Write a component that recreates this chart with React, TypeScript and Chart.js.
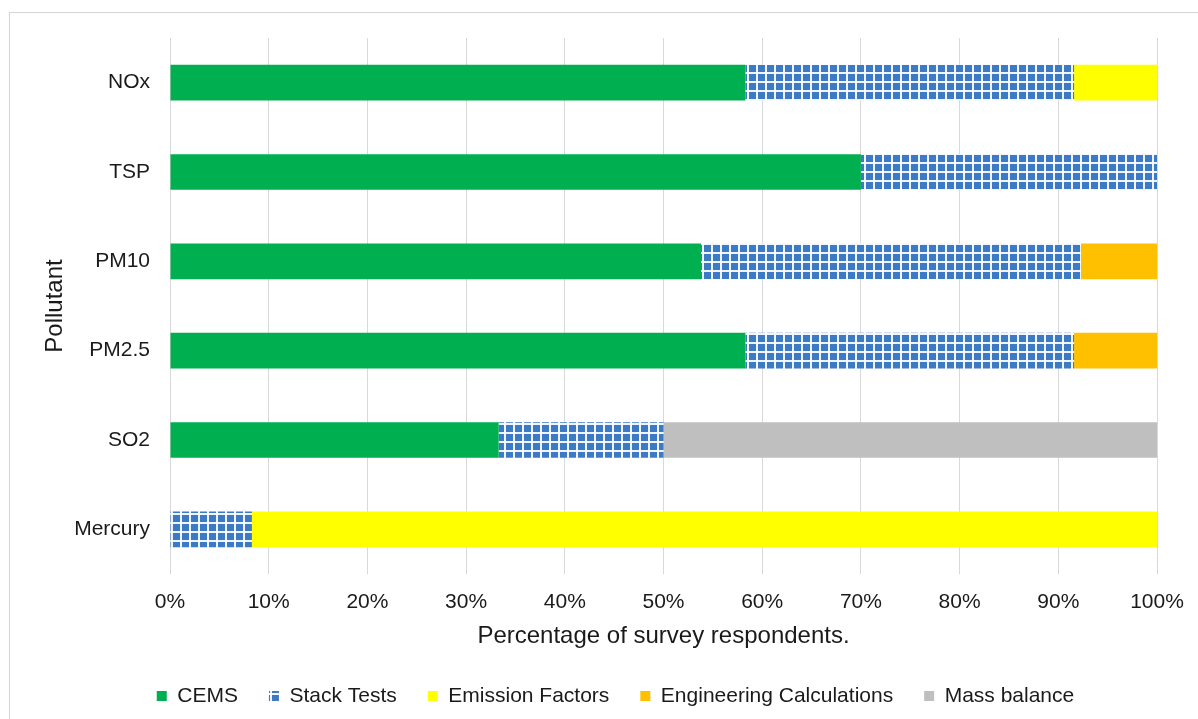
import React, { useEffect, useRef } from "react";
import { Chart, registerables } from "chart.js";

Chart.register(...registerables);

const categories = ["NOx", "TSP", "PM10", "PM2.5", "SO2", "Mercury"];
const cems = [58.3, 70.0, 53.8, 58.3, 33.3, 0];
const stackTests = [33.3, 30.0, 38.5, 33.3, 16.7, 8.3];
const emissionFactors = [8.4, 0, 0, 0, 0, 91.7];
const engineeringCalcs = [0, 0, 7.7, 8.4, 0, 0];
const massBalance = [0, 0, 0, 0, 50.0, 0];
const xTicks = [0, 10, 20, 30, 40, 50, 60, 70, 80, 90, 100];

const FONT = "'Liberation Sans', Arial, sans-serif";

function makePattern(): CanvasPattern | string {
  const c = document.createElement("canvas");
  c.width = 9;
  c.height = 9;
  const ctx = c.getContext("2d");
  if (!ctx) return "#3c7ac6";
  ctx.fillStyle = "#3c7ac6";
  ctx.fillRect(0, 0, 9, 9);
  ctx.fillStyle = "rgba(255,255,255,0.92)";
  ctx.fillRect(0, 0, 9, 2);
  ctx.fillRect(0, 0, 2, 9);
  const p = ctx.createPattern(c, "repeat");
  return p || "#3c7ac6";
}

const legendShift = {
  id: "legendShift",
  afterLayout(chart: any) {
    if (chart.legend) {
      chart.legend.left += 37;
      chart.legend.right += 37;
    }
  },
};

export default function App() {
  const ref = useRef<HTMLCanvasElement | null>(null);

  useEffect(() => {
    if (!ref.current) return;
    const pattern = makePattern();
    const chart = new Chart(ref.current, {
      type: "bar",
      data: {
        labels: categories,
        datasets: [
          { label: "CEMS", data: cems, backgroundColor: "#00b050" },
          { label: "Stack Tests", data: stackTests, backgroundColor: pattern as any },
          { label: "Emission Factors", data: emissionFactors, backgroundColor: "#ffff00" },
          { label: "Engineering Calculations", data: engineeringCalcs, backgroundColor: "#ffc000" },
          { label: "Mass balance", data: massBalance, backgroundColor: "#bfbfbf" },
        ].map((d) => ({ ...d, borderWidth: 0, barPercentage: 0.4, categoryPercentage: 1.0 })),
      },
      options: {
        indexAxis: "y",
        animation: false,
        responsive: false,
        maintainAspectRatio: false,
        layout: { padding: { left: 0, top: 38, right: 41, bottom: 2.5 } },
        plugins: {
          tooltip: { enabled: false },
          legend: {
            position: "bottom",
            labels: {
              boxWidth: 10,
              boxHeight: 10,
              padding: 31,
              color: "#1a1a1a",
              font: { family: FONT, size: 21 },
            },
          },
        },
        scales: {
          x: {
            stacked: true,
            min: 0,
            max: 100,
            afterBuildTicks: (scale: any) => {
              scale.ticks = xTicks.map((v) => ({ value: v }));
            },
            afterFit: (scale: any) => {
              scale.height = 80.5;
              scale.paddingLeft = 0;
              scale.paddingRight = 0;
            },
            grid: { color: "#d9d9d9", lineWidth: 1, drawTicks: false },
            border: { display: false },
            ticks: {
              padding: 16,
              color: "#1a1a1a",
              font: { family: FONT, size: 21 },
              maxRotation: 0,
              callback: (v: any) => v + "%",
            },
            title: {
              display: true,
              text: "Percentage of survey respondents.",
              color: "#1a1a1a",
              font: { family: FONT, size: 24 },
              padding: { top: 0, bottom: 4 },
            },
          },
          y: {
            stacked: true,
            afterFit: (scale: any) => {
              scale.width = 170;
            },
            grid: { display: false, drawTicks: false },
            border: { display: false },
            ticks: {
              padding: 20,
              color: "#1a1a1a",
              font: { family: FONT, size: 21 },
            },
            title: {
              display: true,
              text: "Pollutant",
              color: "#1a1a1a",
              font: { family: FONT, size: 24 },
              padding: { top: 41, bottom: 0 },
            },
          },
        },
      },
      plugins: [legendShift],
    });
    return () => chart.destroy();
  }, []);

  return (
    <div style={{ position: "fixed", left: 0, top: 0, width: 1198, height: 719, overflow: "hidden", background: "#fff" }}>
      <div
        style={{
          position: "absolute",
          left: 9,
          top: 12,
          width: 1200,
          height: 720,
          border: "1px solid #d4d4d4",
          boxSizing: "border-box",
        }}
      />
      <canvas ref={ref} width={1198} height={719} style={{ position: "absolute", left: 0, top: 0, width: 1198, height: 719 }} />
    </div>
  );
}
